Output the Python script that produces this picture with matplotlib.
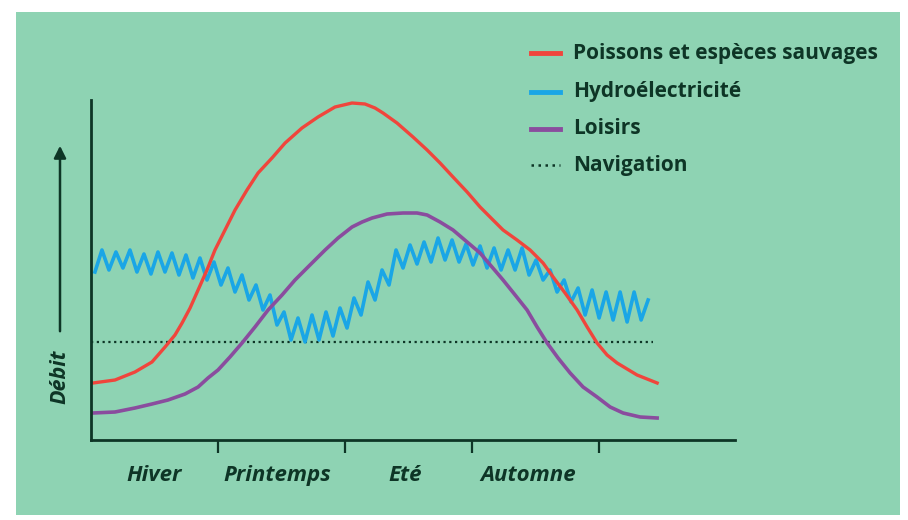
import numpy as np
import matplotlib.pyplot as plt
from matplotlib.patches import Rectangle, FancyArrowPatch
from matplotlib.lines import Line2D

# data (x in seasons, tick = start of next season; y = flow in arbitrary units)
seasons = ["Hiver", "Printemps", "Eté", "Automne"]
season_pos = [0.5, 1.47, 2.47, 3.44]

poissons_x = [0.016, 0.189, 0.346, 0.480, 0.583, 0.661, 0.717, 0.780, 0.843, 0.913, 0.976,
              1.055, 1.134, 1.228, 1.315, 1.425, 1.528, 1.661, 1.787, 1.921, 2.055, 2.157,
              2.236, 2.299, 2.409, 2.535, 2.646, 2.748, 2.850, 2.961, 3.063, 3.165, 3.244,
              3.354, 3.457, 3.559, 3.638, 3.732, 3.827, 3.906, 3.984, 4.063, 4.142, 4.299, 4.457]
poissons_y = [57, 60, 68, 78, 93, 105, 117, 132, 150, 170, 190,
              210, 230, 250, 267, 282, 297, 312, 323, 333, 337, 336,
              332, 327, 317, 303, 290, 277, 263, 248, 233, 220, 210,
              200, 190, 177, 163, 147, 130, 113, 97, 85, 77, 65, 57]

loisirs_x = [0.016, 0.189, 0.346, 0.480, 0.606, 0.740, 0.843, 0.921, 1.0, 1.094, 1.189,
             1.291, 1.394, 1.504, 1.606, 1.724, 1.843, 1.945, 2.055, 2.134, 2.213, 2.331,
             2.457, 2.567, 2.646, 2.748, 2.850, 2.961, 3.063, 3.157, 3.244, 3.339, 3.433,
             3.512, 3.591, 3.677, 3.772, 3.874, 3.984, 4.087, 4.189, 4.323, 4.457]
loisirs_y = [27, 28, 32, 36, 40, 46, 53, 62, 70, 83, 97,
             113, 130, 145, 160, 175, 190, 202, 213, 218, 222, 226,
             227, 227, 225, 218, 210, 198, 187, 173, 160, 145, 130,
             113, 97, 82, 67, 53, 43, 33, 27, 23, 22]

hydro_y = [168, 190, 170, 188, 172, 190, 168, 186, 166, 188,
           168, 187, 165, 185, 162, 182, 160, 178, 155, 172,
           148, 165, 140, 155, 130, 145, 115, 128, 100, 122,
           98, 125, 100, 128, 104, 132, 112, 142, 125, 158,
           140, 170, 155, 190, 172, 195, 176, 198, 178, 202,
           180, 200, 178, 196, 175, 194, 172, 192, 170, 190,
           170, 192, 165, 180, 160, 170, 148, 160, 138, 152,
           125, 150, 122, 148, 120, 148, 118, 148, 120, 140]
hydro_start, hydro_end = 0.031, 4.386

navigation_x = [0.0, 4.425]
navigation_y = [98, 98]

bg = "#8ed3b3"
dark = "#0e3526"
red = "#f0453c"
blue = "#1aa6e6"
purple = "#8a4c9e"

fig = plt.figure(figsize=(9.08, 5.2), dpi=100)
fig.patch.set_facecolor("white")
fig.patches.append(Rectangle((16 / 908, 5 / 520), 884 / 908, 503 / 520,
                             transform=fig.transFigure, facecolor=bg, edgecolor="none", zorder=-10))

ax = fig.add_axes([91 / 908, 80 / 520, 644 / 908, 340 / 520])
ax.set_facecolor("none")
ax.set_xlim(0, 5.07)
ax.set_ylim(0, 340)

hydro_x = np.linspace(hydro_start, hydro_end, len(hydro_y))
ax.plot(navigation_x, navigation_y, color=dark, linewidth=1.6, linestyle=(0, (1, 1.6)))
ax.plot(hydro_x, hydro_y, color=blue, linewidth=2.6)
ax.plot(loisirs_x, loisirs_y, color=purple, linewidth=2.6, solid_joinstyle="round")
ax.plot(poissons_x, poissons_y, color=red, linewidth=2.4, solid_joinstyle="round")

for s in ["top", "right"]:
    ax.spines[s].set_visible(False)
for s in ["left", "bottom"]:
    ax.spines[s].set_color(dark)
    ax.spines[s].set_linewidth(2)

ax.set_yticks([])
ax.set_xticks([1, 2, 3, 4])
ax.set_xticklabels([])
ax.tick_params(axis="x", which="major", direction="out", length=9, width=1.6, color=dark)
ax.set_xticks(season_pos, minor=True)
ax.set_xticklabels(seasons, minor=True, fontsize=16, style="italic", fontweight="bold",
                   color=dark, family="Open Sans")
ax.tick_params(axis="x", which="minor", length=0, pad=18)

# y label with arrow
fig.text(60 / 908, 1 - 377 / 520, "Débit", rotation=90, ha="center", va="center",
         fontsize=15.5, style="italic", fontweight="bold", color=dark, family="Open Sans")
fig.patches.append(FancyArrowPatch((60 / 908, 1 - 334 / 520), (60 / 908, 1 - 143 / 520),
                                   transform=fig.transFigure, arrowstyle="-|>",
                                   mutation_scale=18, color=dark, linewidth=1.8))

# legend
labels = ["Poissons et espèces sauvages", "Hydroélectricité", "Loisirs", "Navigation"]
styles = [(red, "-", 3.5), (blue, "-", 3.5), (purple, "-", 3.5), (dark, (0, (1, 1.8)), 1.8)]
rows = [53, 92, 129, 165]
for lab, (c, ls, lw), yy in zip(labels, styles, rows):
    fy = 1 - yy / 520
    fig.add_artist(Line2D([531 / 908, 560 / 908], [fy, fy], transform=fig.transFigure,
                          color=c, linestyle=ls, linewidth=lw))
    fig.text(573 / 908, fy, lab, ha="left", va="center", fontsize=15,
             fontweight="bold", color=dark, family="Open Sans")

fig.savefig("out.png", dpi=100)
